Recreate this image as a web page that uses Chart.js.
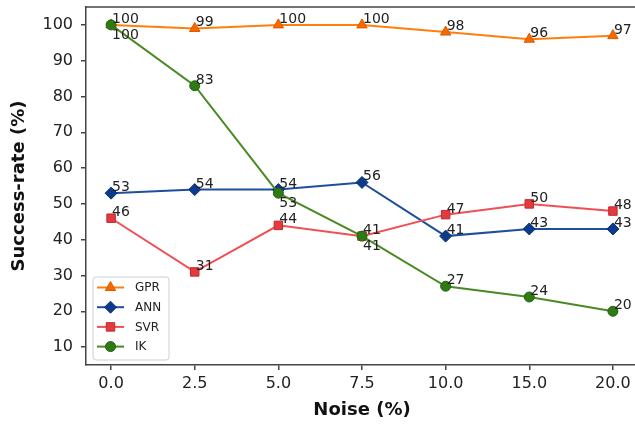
<!DOCTYPE html>
<html>
<head>
<meta charset="utf-8">
<script src="https://cdn.jsdelivr.net/npm/chart.js@4.4.1/dist/chart.umd.min.js"></script>
<style>
  html, body { margin: 0; padding: 0; overflow: hidden; background: #fff; }
  #wrap { width: 635px; height: 424px; overflow: hidden; }
  #c { display: block; }
</style>
</head>
<body>
<div id="wrap"><canvas id="c" width="645" height="424"></canvas></div>
<script>
// Noise levels (x categories) and success rates per method
const noiseLabels = ['0.0', '2.5', '5.0', '7.5', '10.0', '15.0', '20.0'];
const gprRate = [100, 99, 100, 100, 98, 96, 97];
const annRate = [53, 54, 54, 56, 41, 43, 43];
const svrRate = [46, 31, 44, 41, 47, 50, 48];
const ikRate  = [100, 83, 53, 41, 27, 24, 20];
const yTickValues = [10, 20, 30, 40, 50, 60, 70, 80, 90, 100];

// where each value label sits relative to its point
const ikLabelSide = ['below', 'above', 'below', 'below', 'above', 'above', 'above'];

const FONT = "'DejaVu Sans', sans-serif";
const AXIS = '#444';

function toPoints(values) {
  return values.map((v, i) => ({ x: i, y: v }));
}

function series(label, values, line, fill, edge, style, radius, order, sides) {
  return {
    label,
    data: toPoints(values),
    borderColor: line,
    borderWidth: 2,
    pointStyle: style,
    pointRadius: radius,
    pointBackgroundColor: fill,
    pointBorderColor: edge,
    pointBorderWidth: 1,
    tension: 0,
    fill: false,
    order,
    labelSides: sides
  };
}

const datasets = [
  series('GPR', gprRate, '#ff7f0e', '#f26b00', '#e05a00', 'triangle', 6, 3, null),
  series('ANN', annRate, '#1f4e9c', '#0d3a8a', '#0a2f75', 'rectRot', 6, 2, null),
  series('SVR', svrRate, '#ef4f55', '#e23a3f', '#c42a30', 'rect', 6, 1, null),
  series('IK',  ikRate,  '#4a8a25', '#2f7a14', '#23640c', 'circle', 5, 0, ikLabelSide)
];

function drawMarker(ctx, style, x, y, r, fill, edge) {
  ctx.save();
  ctx.fillStyle = fill;
  ctx.strokeStyle = edge;
  ctx.lineWidth = 1;
  ctx.beginPath();
  if (style === 'triangle') {
    for (let k = 0; k < 3; k++) {
      const a = -Math.PI / 2 + k * 2 * Math.PI / 3;
      const px = x + r * Math.cos(a), py = y + r * Math.sin(a);
      k === 0 ? ctx.moveTo(px, py) : ctx.lineTo(px, py);
    }
    ctx.closePath();
  } else if (style === 'rectRot') {
    ctx.moveTo(x, y - r); ctx.lineTo(x + r, y); ctx.lineTo(x, y + r); ctx.lineTo(x - r, y);
    ctx.closePath();
  } else if (style === 'rect') {
    const s = r * Math.SQRT1_2;
    ctx.rect(x - s, y - s, 2 * s, 2 * s);
  } else {
    ctx.arc(x, y, r, 0, Math.PI * 2);
  }
  ctx.fill();
  ctx.stroke();
  ctx.restore();
}

// top frame line, value labels and the boxed legend
const decorations = {
  id: 'decorations',
  afterDatasetsDraw(chart) {
    const ctx = chart.ctx;
    const area = chart.chartArea;

    ctx.save();
    ctx.strokeStyle = AXIS;
    ctx.lineWidth = 1.5;
    ctx.beginPath();
    ctx.moveTo(area.left, area.top);
    ctx.lineTo(area.right, area.top);
    ctx.stroke();
    ctx.restore();

    // value labels
    ctx.save();
    ctx.font = '14px ' + FONT;
    ctx.fillStyle = '#222';
    ctx.textAlign = 'left';
    ctx.textBaseline = 'alphabetic';
    chart.data.datasets.forEach((ds, di) => {
      const meta = chart.getDatasetMeta(di);
      meta.data.forEach((pt, i) => {
        const side = ds.labelSides ? ds.labelSides[i] : 'above';
        const text = String(ds.data[i].y);
        const ty = side === 'below' ? pt.y + 14 : pt.y - 2;
        ctx.fillText(text, pt.x + 1, ty);
      });
    });
    ctx.restore();

    // legend
    const bx = area.left + 7, bw = 76, bh = 83;
    const by = area.bottom - 5 - bh;
    ctx.save();
    ctx.beginPath();
    if (ctx.roundRect) ctx.roundRect(bx, by, bw, bh, 3); else ctx.rect(bx, by, bw, bh);
    ctx.fillStyle = 'rgba(255,255,255,0.85)';
    ctx.fill();
    ctx.strokeStyle = '#d0d0d0';
    ctx.lineWidth = 1;
    ctx.stroke();
    chart.data.datasets.forEach((ds, di) => {
      const y = by + 10.5 + di * 19.7;
      ctx.strokeStyle = ds.borderColor;
      ctx.lineWidth = 2;
      ctx.beginPath();
      ctx.moveTo(bx + 4, y);
      ctx.lineTo(bx + 31, y);
      ctx.stroke();
      drawMarker(ctx, ds.pointStyle, bx + 17.5, y, ds.pointRadius,
                 ds.pointBackgroundColor, ds.pointBorderColor);
      ctx.font = '12px ' + FONT;
      ctx.fillStyle = '#222';
      ctx.textAlign = 'left';
      ctx.textBaseline = 'middle';
      ctx.fillText(ds.label, bx + 42, y + 0.5);
    });
    ctx.restore();
  }
};

new Chart(document.getElementById('c'), {
  type: 'line',
  data: { datasets },
  options: {
    responsive: false,
    animation: false,
    devicePixelRatio: 1,
    layout: { padding: { top: 7, right: -2, left: 0, bottom: 0 } },
    plugins: { legend: { display: false }, tooltip: { enabled: false } },
    scales: {
      x: {
        type: 'linear',
        min: -0.3,
        max: 6.3,
        afterBuildTicks: (s) => { s.ticks = noiseLabels.map((_, i) => ({ value: i })); },
        afterFit: (s) => { s.height = 59; s.paddingLeft = 0; s.paddingRight = 0; },
        ticks: {
          callback: (v) => noiseLabels[v],
          color: '#222',
          font: { family: FONT, size: 16 },
          padding: 4,
          maxRotation: 0,
          autoSkip: false
        },
        grid: { drawOnChartArea: false, drawTicks: true, tickLength: 5, color: AXIS, lineWidth: 1.5 },
        border: { display: true, color: AXIS, width: 1.5 },
        title: {
          display: true,
          text: 'Noise (%)',
          color: '#111',
          font: { family: FONT, size: 18, weight: 'bold' },
          padding: { top: 0, bottom: 3 }
        }
      },
      y: {
        min: 5,
        max: 105,
        afterBuildTicks: (s) => { s.ticks = yTickValues.map(v => ({ value: v })); },
        afterFit: (s) => { s.width = 86; s.paddingTop = 0; s.paddingBottom = 0; },
        ticks: {
          color: '#222',
          font: { family: FONT, size: 16 },
          padding: 8
        },
        grid: { drawOnChartArea: false, drawTicks: true, tickLength: 5, color: AXIS, lineWidth: 1.5 },
        border: { display: true, color: AXIS, width: 1.5 },
        title: {
          display: true,
          text: 'Success-rate (%)',
          color: '#111',
          font: { family: FONT, size: 18, weight: 'bold' },
          padding: { top: 9, bottom: 0 }
        }
      }
    }
  },
  plugins: [decorations]
});
</script>
</body>
</html>
